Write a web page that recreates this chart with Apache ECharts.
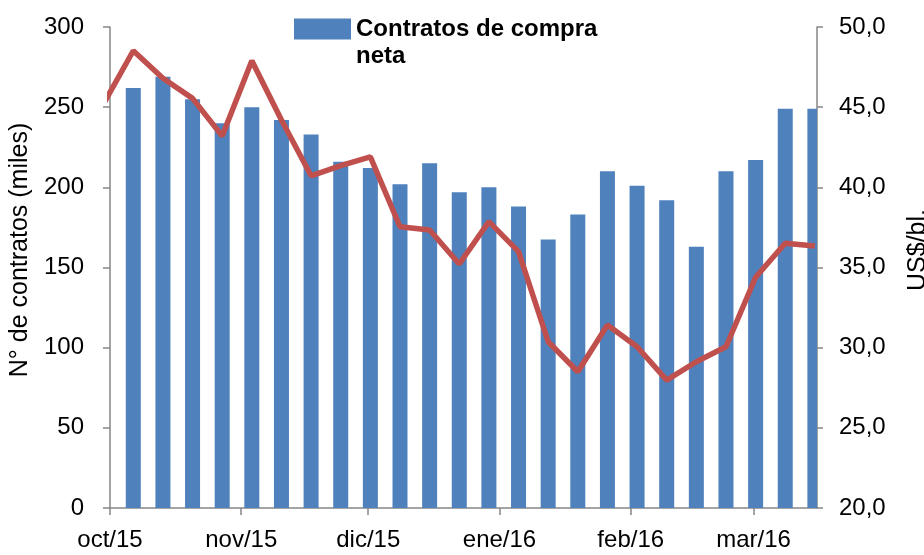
<!DOCTYPE html>
<html>
<head>
<meta charset="utf-8">
<script src="https://cdn.jsdelivr.net/npm/echarts@6/dist/echarts.min.js"></script>
<style>
html, body { margin: 0; padding: 0; background: #fff; }
#view { width: 924px; height: 555px; }
</style>
</head>
<body>
<div id="view"></div>
<script>
// semanas (martes) de los contratos netos
var barDates = ['2015-10-06', '2015-10-13', '2015-10-20', '2015-10-27', '2015-11-03', '2015-11-10',
    '2015-11-17', '2015-11-24', '2015-12-01', '2015-12-08', '2015-12-15', '2015-12-22',
    '2015-12-29', '2016-01-05', '2016-01-12', '2016-01-19', '2016-01-26', '2016-02-02',
    '2016-02-09', '2016-02-16', '2016-02-23', '2016-03-01', '2016-03-08', '2016-03-15'];
var barValues = [262, 269, 255, 240, 250, 242, 233, 216, 212, 202, 215, 197,
    200, 188, 167.5, 183, 210, 201, 192, 163, 210, 217, 249, 249];

// precio (US$/bl.)
var lineDates = ['2015-09-29'].concat(barDates);
var lineValues = [45.23, 48.52, 46.8, 45.55, 43.2, 47.9, 44.2, 40.72, 41.35, 41.9, 37.54, 37.34,
    35.22, 37.86, 35.99, 30.37, 28.5, 31.41, 30.06, 27.98, 29.12, 30.06, 34.39, 36.51, 36.34];

// marcas del eje x (inicio de cada mes)
var monthTicks = ['2015-10-01', '2015-11-01', '2015-12-01', '2016-01-01', '2016-02-01', '2016-03-01'];
var meses = ['ene', 'feb', 'mar', 'abr', 'may', 'jun', 'jul', 'ago', 'sep', 'oct', 'nov', 'dic'];

function toTime(s, hour) {
    var p = s.split('-');
    return new Date(+p[0], +p[1] - 1, +p[2], hour || 0).getTime();
}

// cada fecha ocupa su dia: la barra va en el centro del dia
var barData = barDates.map(function (d, i) { return [toTime(d, 12), barValues[i]]; });
var lineData = lineDates.map(function (d, i) { return [toTime(d, 12), lineValues[i]]; });
var tickValues = monthTicks.map(function (d) { return toTime(d, 0); });

var font = 'Liberation Sans, Arial, sans-serif';
var axisGray = '#868686';
var barColor = '#4F81BD';

var myChart = echarts.init(document.getElementById('view'));

// barras recortadas al area del grafico (la ultima queda cortada por el eje derecho)
function renderBar(params, api) {
    var x = api.value(0);
    var top = api.coord([x, api.value(1)]);
    var base = api.coord([x, 0]);
    var rect = echarts.graphic.clipRectByRect({
        x: top[0] - 7.5,
        y: top[1],
        width: 15,
        height: base[1] - top[1]
    }, {
        x: params.coordSys.x,
        y: params.coordSys.y,
        width: params.coordSys.width,
        height: params.coordSys.height
    });
    return rect && { type: 'rect', shape: rect, style: api.style() };
}

option = {
    animation: false,
    textStyle: { fontFamily: font },
    grid: { left: 110, right: 107, top: 27, bottom: 47, containLabel: false, outerBoundsMode: 'none' },
    legend: {
        data: ['Contratos de compra neta'],
        left: 294,
        top: -10,
        padding: 0,
        icon: 'rect',
        itemWidth: 57,
        itemHeight: 21,
        formatter: function () { return '{p|\u00a0}\n{a|Contratos de compra}\n{a|neta}'; },
        textStyle: {
            fontFamily: font,
            fontSize: 24,
            fontWeight: 'bold',
            color: '#000',
            rich: {
                p: { fontSize: 24, lineHeight: 27 },
                a: { fontFamily: font, fontSize: 24, fontWeight: 'bold', color: '#000', lineHeight: 27 }
            }
        }
    },
    xAxis: {
        type: 'value',
        min: toTime('2015-10-01', 0),
        max: toTime('2016-03-16', 0),
        axisLine: { lineStyle: { color: axisGray, width: 1.5 } },
        axisTick: { show: true, length: 7, customValues: tickValues, lineStyle: { color: axisGray, width: 1.5 } },
        splitLine: { show: false },
        axisLabel: {
            fontSize: 24,
            color: '#000',
            margin: 20,
            customValues: tickValues,
            formatter: function (v) {
                var d = new Date(v);
                return meses[d.getMonth()] + '/' + String(d.getFullYear()).slice(2);
            }
        }
    },
    yAxis: [
        {
            type: 'value',
            min: 0,
            max: 300,
            interval: 50,
            name: 'N° de contratos (miles)',
            nameLocation: 'middle',
            nameRotate: 90,
            nameGap: 76,
            nameTextStyle: { fontSize: 25, color: '#000', padding: [0, 0, 0, 35] },
            axisLine: { show: true, lineStyle: { color: axisGray, width: 1.5 } },
            axisTick: { show: true, length: 7, lineStyle: { color: axisGray, width: 1.5 } },
            splitLine: { show: false },
            axisLabel: { fontSize: 24, color: '#000', margin: 26 }
        },
        {
            type: 'value',
            position: 'right',
            min: 20,
            max: 50,
            interval: 5,
            name: 'US$/bl.',
            nameLocation: 'middle',
            nameRotate: 90,
            nameGap: 89,
            nameTextStyle: { fontSize: 25, color: '#000', padding: [0, 0, 0, 35] },
            axisLine: { show: true, lineStyle: { color: axisGray, width: 1.5 } },
            axisTick: { show: true, length: 6, lineStyle: { color: axisGray, width: 1.5 } },
            splitLine: { show: false },
            axisLabel: {
                fontSize: 24,
                color: '#000',
                margin: 22,
                formatter: function (v) { return v.toFixed(1).replace('.', ','); }
            }
        }
    ],
    series: [
        {
            name: 'Contratos de compra neta',
            type: 'custom',
            yAxisIndex: 0,
            renderItem: renderBar,
            encode: { x: 0, y: 1 },
            itemStyle: { color: barColor },
            data: barData
        },
        {
            name: 'US$/bl.',
            type: 'line',
            yAxisIndex: 1,
            showSymbol: false,
            symbol: 'none',
            clip: true,
            z: 5,
            lineStyle: { color: '#C0504D', width: 5.5 },
            data: lineData
        }
    ]
};

myChart.setOption(option);
</script>
</body>
</html>
